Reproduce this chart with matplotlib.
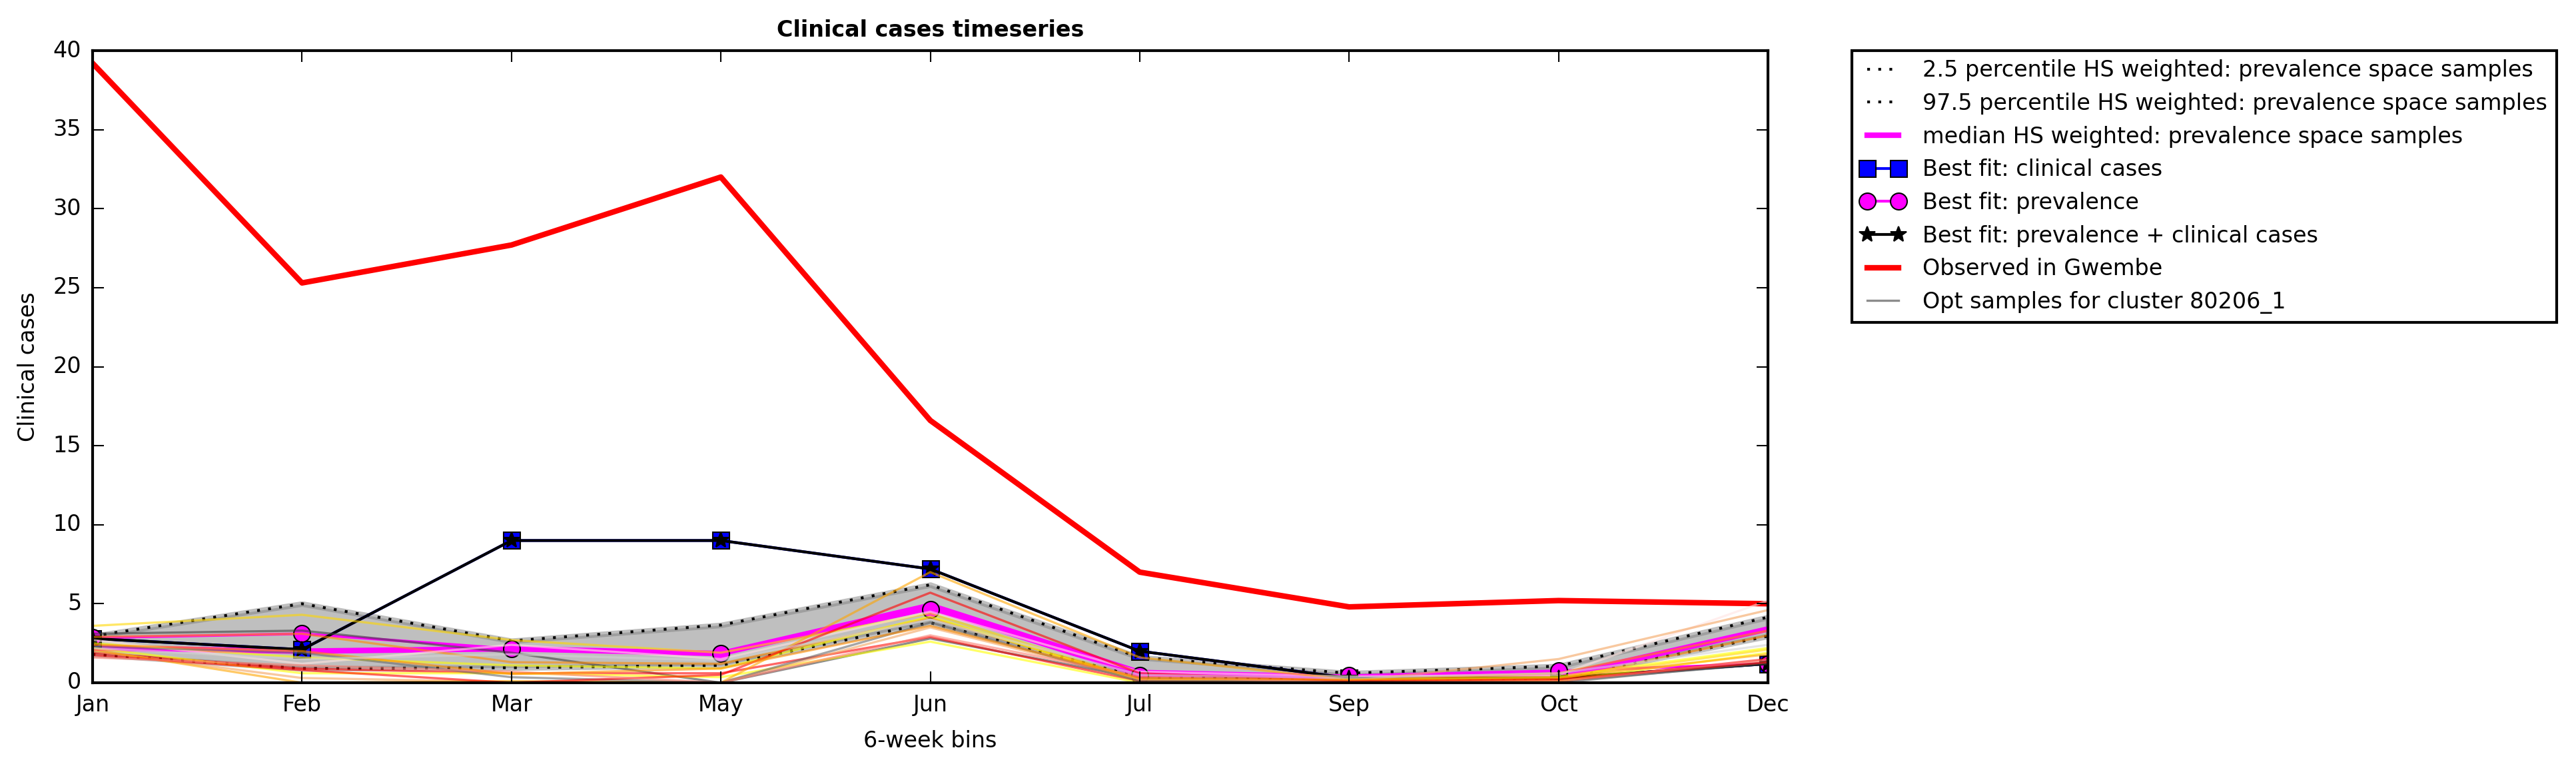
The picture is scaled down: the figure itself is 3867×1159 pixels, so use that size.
import matplotlib
matplotlib.use('Agg')
from matplotlib import pyplot as plt
import numpy as np

# 6-week bins
months = ['Jan', 'Feb', 'Mar', 'May', 'Jun', 'Jul', 'Sep', 'Oct', 'Dec']

observed = [39.2, 25.3, 27.7, 32.0, 16.6, 7.0, 4.8, 5.2, 5.0]
best_clinical = [2.8, 2.1, 9.0, 9.0, 7.2, 2.0, 0.3, 0.3, 1.2]
best_prevalence = [2.85, 3.1, 2.15, 1.85, 4.65, 0.45, 0.45, 0.75, 1.2]
best_both = [2.8, 2.1, 9.0, 9.0, 7.2, 2.0, 0.3, 0.3, 1.2]

p025 = [1.8, 0.9, 0.95, 1.1, 3.8, 0.35, 0.15, 0.3, 2.95]
p975 = [2.95, 5.0, 2.65, 3.65, 6.2, 1.6, 0.6, 1.05, 4.15]
median = [2.2, 2.0, 2.15, 1.85, 4.9, 0.65, 0.35, 0.4, 3.4]

# opt samples
samples = [
    [3.1, 3.3, 1.9, 0.0, 2.8, 0.3, 0.1, 0.1, 1.2],
    [3.6, 4.3, 2.7, 1.9, 4.4, 0.2, 0.1, 0.3, 2.1],
    [2.9, 3.1, 1.3, 1.2, 4.1, 0.2, 0.1, 0.2, 3.0],
    [2.5, 1.6, 1.1, 0.9, 4.2, 0.1, 0.2, 0.4, 2.2],
    [2.7, 1.2, 2.4, 1.5, 4.5, 0.7, 0.4, 0.5, 5.2],
    [1.9, 0.9, 0.6, 0.6, 2.9, 0.1, 0.0, 0.1, 1.5],
    [2.2, 0.6, 0.6, 0.35, 2.6, 0.0, 0.0, 0.1, 1.9],
    [2.0, 0.3, 0.05, 0.0, 3.5, 0.2, 0.1, 1.5, 4.6],
    [2.3, 1.9, 0.35, 0.0, 3.8, 0.1, 0.1, 0.0, 1.3],
    [2.1, 0.0, 0.1, 0.0, 7.0, 1.6, 0.2, 0.3, 1.8],
    [1.75, 0.8, 0.0, 0.5, 5.7, 0.6, 0.1, 0.2, 1.3],
    [1.6, 1.1, 0.7, 0.0, 3.0, 0.4, 0.0, 0.1, 1.45],
    [2.4, 2.0, 0.55, 0.9, 3.6, 0.3, 0.2, 0.6, 3.3],
    [2.2, 1.5, 1.8, 1.4, 4.0, 0.5, 0.3, 0.6, 2.4],
]
sample_colors = ['0.25', 'gold', 'darkorange', 'yellow', 'mistyrose', 'red', 'yellow',
                 'sandybrown', 'dimgray', 'orange', 'red', 'salmon', 'darkorange', 'lightgray']

plt.style.use('classic')
plt.rcParams['font.family'] = ['DejaVu Sans']

W, H, DPI = 3867, 1159, 300
fig = plt.figure(figsize=(W / DPI, H / DPI), dpi=DPI, facecolor='white')
ax = fig.add_axes([139 / W, 1 - 1025 / H, (2654 - 139) / W, (1025 - 76) / H])

x = np.arange(len(months))

ax.fill_between(x, p025, p975, color='gray', alpha=0.5, linewidth=2)
ax.plot(x, p025, ':', color='black', lw=1, label='2.5 percentile HS weighted: prevalence space samples')
ax.plot(x, p975, ':', color='black', lw=1, label='97.5 percentile HS weighted: prevalence space samples')
ax.plot(x, median, '-', color='magenta', lw=2, label='median HS weighted: prevalence space samples')
ax.plot(x, best_clinical, '-s', color='blue', ms=6, label='Best fit: clinical cases')
ax.plot(x, best_prevalence, '-o', color='magenta', ms=6, label='Best fit: prevalence')
ax.plot(x, best_both, '-*', color='black', ms=6, label='Best fit: prevalence + clinical cases')
ax.plot(x, observed, '-', color='red', lw=2, label='Observed in Gwembe')

for k, (s, c) in enumerate(zip(samples, sample_colors)):
    lab = 'Opt samples for cluster 80206_1' if k == 0 else None
    ax.plot(x, s, '-', color=c, lw=0.8, alpha=0.6, label=lab)

ax.set_xlim(0, 8)
ax.set_ylim(0, 40)
ax.set_xticks(x)
ax.set_xticklabels(months, fontsize=8)
ax.set_yticks(np.arange(0, 41, 5))
ax.tick_params(labelsize=8)
ax.set_xlabel('6-week bins', fontsize=8)
ax.set_ylabel('Clinical cases', fontsize=8)
ax.set_title('Clinical cases timeseries', fontsize=8, fontweight='bold')

ax.legend(bbox_to_anchor=(1.05, 1), loc=2, borderaxespad=0., fontsize=8)

fig.savefig('out.png', dpi=DPI, facecolor='white')
